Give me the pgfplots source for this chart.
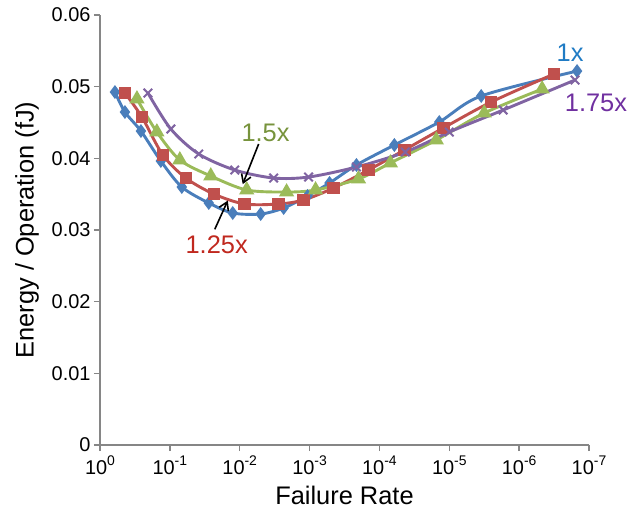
\documentclass[border=0pt]{standalone}
\usepackage{fontspec}
\setmainfont{Liberation Sans}
\usepackage{pgfplots}
\pgfplotsset{compat=1.18}
\usetikzlibrary{arrows.meta}
\definecolor{sblue}{HTML}{4A7EBB}
\definecolor{sred}{HTML}{C0504D}
\definecolor{sgreen}{HTML}{9BBB59}
\definecolor{spurple}{HTML}{8064A2}
\definecolor{lblue}{HTML}{1F7BC4}
\definecolor{lred}{HTML}{C0281E}
\definecolor{lgreen}{HTML}{77933C}
\definecolor{lpurple}{HTML}{7030A0}
\definecolor{axgray}{HTML}{868686}
\newcommand{\expo}[1]{\raisebox{0.45em}{\fontsize{14}{16}\selectfont #1}}
\begin{document}
\begin{tikzpicture}
\begin{axis}[
  scale only axis,
  width=489bp, height=430bp,
  xmin=0, xmax=7, ymin=0, ymax=0.06,
  axis lines*=left,
  axis line style={axgray, line width=1.3bp},
  tick style={axgray, line width=1.3bp},
  tick align=outside,
  major tick length=6bp,
  xtick={0,1,2,3,4,5,6,7},
  xticklabels={10\expo{0},10\expo{-1},10\expo{-2},10\expo{-3},10\expo{-4},10\expo{-5},10\expo{-6},10\expo{-7}},
  ytick={0,0.01,0.02,0.03,0.04,0.05,0.06},
  yticklabels={0,0.01,0.02,0.03,0.04,0.05,0.06},
  scaled y ticks=false,
  ticklabel style={font=\fontsize{20}{23}\selectfont, black},
  xticklabel style={yshift=-1bp},
  xlabel={Failure Rate},
  ylabel={Energy / Operation (fJ)},
  label style={font=\fontsize{25.5}{29}\selectfont, black},
  xlabel style={at={(axis description cs:0.5,-0.118)}, anchor=center},
  ylabel style={at={(axis description cs:-0.149,0.5)}, anchor=center},
  clip=false,
  every axis plot/.append style={line width=2.9bp, smooth, tension=0.5},
]
% 1x
\addplot[color=sblue, mark=diamond*, mark size=4.6bp, mark options={solid, fill=sblue}] coordinates {
(0.214,0.04925) (0.357,0.04646) (0.586,0.04381) (0.871,0.03963) (1.171,0.03600)
(1.557,0.03377) (1.900,0.03237) (2.300,0.03223) (2.629,0.03307) (2.971,0.03475)
(3.286,0.03656) (3.671,0.03907) (4.214,0.04186) (4.857,0.04507) (5.457,0.04870)
(6.829,0.05218)};
% 1.25x
\addplot[color=sred, mark=square*, mark size=4.8bp, mark options={solid, fill=sred}] coordinates {
(0.357,0.04911) (0.600,0.04577) (0.900,0.04046) (1.229,0.03725) (1.629,0.03502)
(2.071,0.03363) (2.557,0.03363) (2.914,0.03419) (3.343,0.03586) (3.843,0.03837)
(4.357,0.04116) (4.914,0.04423) (5.600,0.04786) (6.500,0.05177)};
% 1.5x
\addplot[color=sgreen, mark=triangle*, mark size=6bp, mark options={solid, fill=sgreen}] coordinates {
(0.529,0.04828) (0.814,0.04367) (1.143,0.03977) (1.586,0.03753) (2.100,0.03558)
(2.671,0.03530) (3.086,0.03558) (3.700,0.03712) (4.157,0.03935) (4.814,0.04256)
(5.500,0.04632) (6.329,0.04967)};
% 1.75x
\addplot[color=spurple, mark=x, mark size=6bp, mark options={solid, line width=2bp}] coordinates {
(0.686,0.04911) (1.014,0.04409) (1.414,0.04060) (1.929,0.03837) (2.486,0.03725)
(2.986,0.03739) (3.671,0.03879) (4.371,0.04088) (5.000,0.04367) (5.771,0.04674)
(6.800,0.05093)};
\node[text=lblue, font=\fontsize{25.5}{29}\selectfont] at (axis cs:6.73,0.0547) {1x};
\node[text=lpurple, font=\fontsize{25.5}{29}\selectfont] at (axis cs:7.1,0.0477) {1.75x};
\node[text=lgreen, font=\fontsize{25.5}{29}\selectfont] at (axis cs:2.37,0.0436) {1.5x};
\node[text=lred, font=\fontsize{25.5}{29}\selectfont] at (axis cs:1.67,0.0279) {1.25x};
\draw[-{Straight Barb[length=8bp,width=10bp]}, line width=1.6bp, black] (axis cs:2.271,0.0420) -- (axis cs:2.043,0.0364);
\draw[-{Straight Barb[length=8bp,width=10bp]}, line width=1.6bp, black] (axis cs:1.643,0.0301) -- (axis cs:1.829,0.0341);
\end{axis}
\pgfresetboundingbox
\path (current axis.south west) ++(-100bp,-65bp) rectangle ++(642bp,510bp);
\end{tikzpicture}
\end{document}
